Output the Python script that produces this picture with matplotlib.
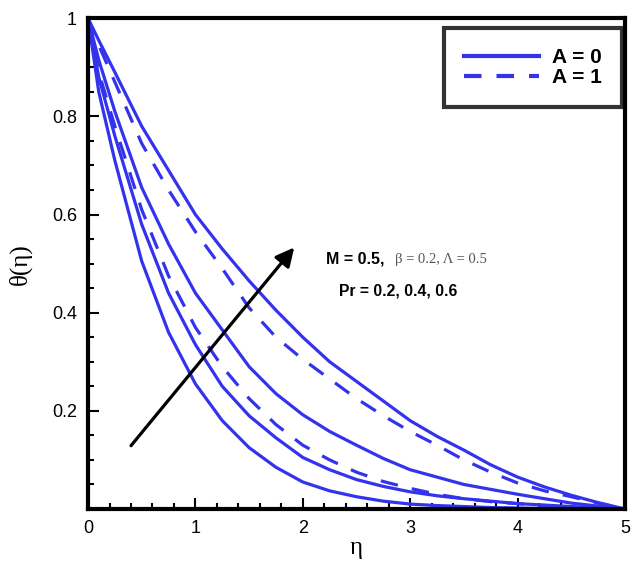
import matplotlib
matplotlib.use("Agg")
import matplotlib.pyplot as plt

# eta grid and the curves
eta = [0, 0.1, 0.25, 0.5, 0.75, 1, 1.25, 1.5, 1.75, 2, 2.25, 2.5, 2.75, 3,
       3.25, 3.5, 3.75, 4, 4.25, 4.5, 4.75, 5]

# solid curves (A = 0)
theta_s1 = [1, 0.85, 0.71, 0.505, 0.36, 0.255, 0.18, 0.125, 0.085, 0.055, 0.037, 0.025,
            0.016, 0.01, 0.007, 0.005, 0.003, 0.002, 0.001, 0.001, 0.0005, 0]
theta_s2 = [1, 0.88, 0.76, 0.58, 0.44, 0.335, 0.25, 0.19, 0.145, 0.105, 0.08, 0.06,
            0.046, 0.035, 0.027, 0.021, 0.016, 0.011, 0.008, 0.005, 0.002, 0]
theta_s3 = [1, 0.915, 0.81, 0.655, 0.54, 0.44, 0.365, 0.29, 0.235, 0.192, 0.158, 0.13,
            0.103, 0.08, 0.065, 0.05, 0.04, 0.03, 0.021, 0.012, 0.006, 0]
theta_s4 = [1, 0.955, 0.89, 0.78, 0.69, 0.6, 0.53, 0.465, 0.405, 0.35, 0.3, 0.26,
            0.22, 0.18, 0.148, 0.12, 0.09, 0.065, 0.045, 0.028, 0.013, 0]
# dashed curves (A = 1)
theta_d1 = [1, 0.89, 0.78, 0.61, 0.475, 0.37, 0.29, 0.225, 0.172, 0.13, 0.1, 0.075,
            0.056, 0.042, 0.03, 0.021, 0.015, 0.011, 0.007, 0.004, 0.002, 0]
theta_d2 = [1, 0.945, 0.87, 0.745, 0.65, 0.565, 0.49, 0.41, 0.35, 0.305, 0.265, 0.225,
            0.19, 0.158, 0.13, 0.1, 0.075, 0.053, 0.037, 0.025, 0.012, 0]

blue = "#3333ee"
lw = 2.3
dash = (5.5, 4.5)

fig = plt.figure(figsize=(6.31, 5.66), dpi=100)
ax = fig.add_axes([0.1395, 0.1007, 0.851, 0.867])

for th in [theta_s1, theta_s2, theta_s3, theta_s4]:
    ax.plot(eta, th, color=blue, lw=lw)
for th in [theta_d1, theta_d2]:
    ax.plot(eta, th, color=blue, lw=lw, dashes=dash)

# legend entries only
ax.plot([], [], color=blue, lw=3, label="A = 0")
ax.plot([], [], color=blue, lw=3, dashes=(4.2, 3.6), label="A = 1")
h, l = ax.get_legend_handles_labels()
leg = ax.legend(h, l, loc="upper right", bbox_to_anchor=(0.994, 0.98),
                borderaxespad=0, fancybox=False, handlelength=3.6,
                prop={"family": "Liberation Sans", "weight": "bold", "size": 15},
                labelspacing=0.05, borderpad=0.95, handletextpad=0.65)
leg.get_frame().set_edgecolor("black")
leg.get_frame().set_linewidth(3)

# arrow for increasing Pr
ax.annotate("", xy=(1.92, 0.533), xytext=(0.4, 0.129),
            arrowprops=dict(arrowstyle="-|>", color="black", lw=2.3,
                            mutation_scale=28, shrinkA=0, shrinkB=0))

ax.text(2.22, 0.51, "M = 0.5,", fontsize=11.5, fontweight="bold",
        family="Liberation Sans", va="center")
ax.text(2.86, 0.508, "\u03b2 = 0.2, \u039b = 0.5", fontsize=10.5, color="#555555",
        family="Liberation Serif", va="center")
ax.text(2.34, 0.444, "Pr = 0.2, 0.4, 0.6", fontsize=11.3, fontweight="bold",
        family="Liberation Sans", va="center")

ax.set_xlim(0, 5)
ax.set_ylim(0, 1)
ax.set_xticks([0, 1, 2, 3, 4, 5])
ax.set_xticklabels(["0", "1", "2", "3", "4", "5"])
ax.set_xticks([i * 0.2 for i in range(26)], minor=True)
ax.set_yticks([0.2, 0.4, 0.6, 0.8, 1.0])
ax.set_yticklabels(["0.2", "0.4", "0.6", "0.8", "1"])
ax.set_yticks([i * 0.05 for i in range(21)], minor=True)

ax.tick_params(which="both", direction="in", top=False, right=False,
               labelsize=13, width=1.5, colors="black")
ax.tick_params(which="major", length=8, pad=8)
ax.tick_params(which="minor", length=4)
for lab in ax.get_xticklabels() + ax.get_yticklabels():
    lab.set_family("Liberation Sans")

for sp in ax.spines.values():
    sp.set_linewidth(3)

ax.set_xlabel("\u03b7", fontsize=18, family="Liberation Serif", labelpad=0)
ax.set_ylabel("\u03b8(\u03b7)", fontsize=18, family="Liberation Serif", labelpad=14)

fig.savefig("out.png", dpi=100)
